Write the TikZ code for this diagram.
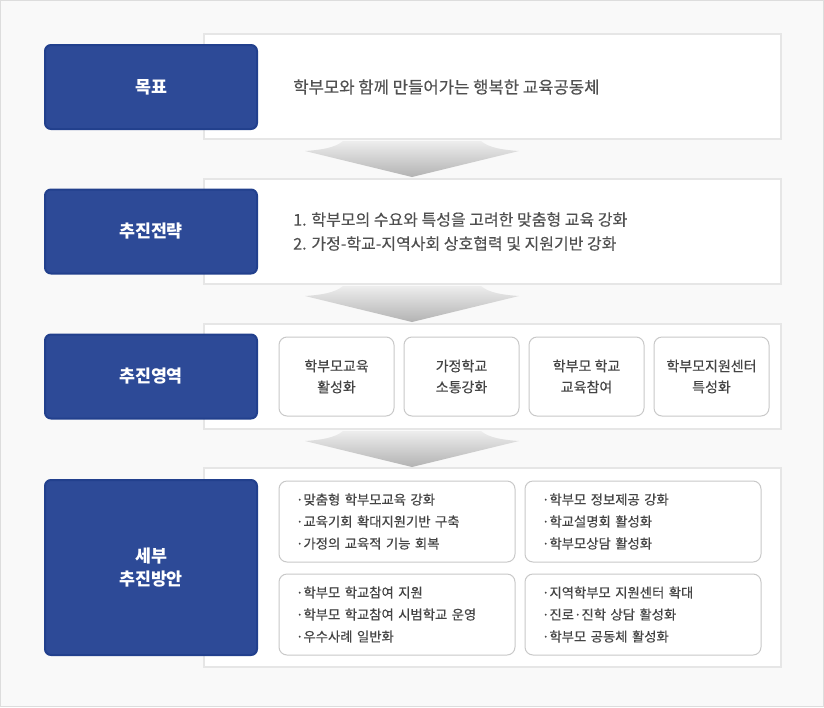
\documentclass[tikz,border=0pt]{standalone}
\usepackage{fontspec}
\setmainfont{Noto Sans CJK KR}
\newfontfamily\krtext{Noto Sans CJK KR}[FakeBold=0.3]
\usepackage{xcolor}
\usepackage{tikz}
\usetikzlibrary{positioning}
\definecolor{labelblue}{HTML}{2D4A97}
\definecolor{labelline}{HTML}{22408D}
\definecolor{panelline}{HTML}{E6E6E6}
\definecolor{boxline}{HTML}{C9C9C9}
\definecolor{textgray}{HTML}{505050}
\definecolor{textdark}{HTML}{444444}
\definecolor{bggray}{HTML}{F9F9F9}
\definecolor{bgline}{HTML}{DDDDDD}
\tikzstyle{headbox} = [rectangle, rounded corners=4.5pt, minimum width=159pt, minimum height=63pt, align=center, draw=labelline, line width=1.5pt, fill=labelblue, text=white, font=\fontsize{13}{17.25}\selectfont\bfseries]
\tikzstyle{panel} = [rectangle, minimum width=432.75pt, minimum height=78.75pt, draw=panelline, line width=1.5pt, fill=white]
\tikzstyle{paneltext} = [anchor=west, inner sep=0pt, align=left, text=textgray, font=\krtext\fontsize{12}{18}\selectfont]
\tikzstyle{areabox} = [rectangle, rounded corners=6pt, minimum width=86.25pt, minimum height=59.25pt, align=center, draw=boxline, line width=0.75pt, fill=white, text=textdark, font=\krtext\fontsize{10.5}{15.75}\selectfont]
\tikzstyle{detailbox} = [rectangle, rounded corners=6pt, minimum height=60.75pt, text width=151.5pt, inner xsep=12.75pt, align=left, draw=boxline, line width=0.75pt, fill=white, text=textdark, font=\krtext\fontsize{10}{16.5}\selectfont]
\tikzstyle{chevron} = [top color=black!7, bottom color=black!30]

\begin{document}
\begin{tikzpicture}[x=0.75pt, y=-0.75pt]
\useasboundingbox (0,0) rectangle (824,707);
\draw [fill=bggray, draw=bgline, line width=0.75pt] (0.5,0.5) rectangle (823.5,706.5);

% Row 1: goal
\node (goal_panel) [panel] at (492.5,86.5) {};
\node (goal) [headbox] at (151,87) {목표};
\node (goal_text) [paneltext, font=\krtext\fontsize{12.5}{18}\selectfont] at (293,87) {학부모와 함께 만들어가는 행복한 교육공동체};

% Row 2: strategy
\node (strat_panel) [panel] at (492.5,231.5) {};
\node (strat) [headbox] at (151,231.5) {추진전략};
\node (strat_text) [paneltext] at (293,231.5) {1. 학부모의 수요와 특성을 고려한 맞춤형 교육 강화\\2. 가정-학교-지역사회 상호협력 및 지원기반 강화};

% Row 3: areas
\node (area_panel) [panel] at (492.5,376.5) {};
\node (area) [headbox] at (151,376.5) {추진영역};
\node (area1) [areabox] at (336.5,376.5) {학부모교육\\활성화};
\node (area2) [areabox, right=6.75pt of area1] {가정학교\\소통강화};
\node (area3) [areabox, right=6.75pt of area2] {학부모 학교\\교육참여};
\node (area4) [areabox, right=6.75pt of area3] {학부모지원센터\\특성화};

% Row 4: detailed plans
\node (detail_panel) [panel, minimum height=149.25pt] at (492.5,567.5) {};
\node (detail) [headbox, minimum height=131.25pt] at (151,567.5) {세부\\추진방안};
\node (detail1) [detailbox] at (397,521.5) {·맞춤형 학부모교육 강화\\·교육기회 확대지원기반 구축\\·가정의 교육적 기능 회복};
\node (detail2) [detailbox, right=6.75pt of detail1] {·학부모 정보제공 강화\\·학교설명회 활성화\\·학부모상담 활성화};
\node (detail3) [detailbox, below=8.25pt of detail1] {·학부모 학교참여 지원\\·학부모 학교참여 시범학교 운영\\·우수사례 일반화};
\node (detail4) [detailbox, below=8.25pt of detail2] {·지역학부모 지원센터 확대\\·진로·진학 상담 활성화\\·학부모 공동체 활성화};

% Chevrons between rows
\shade [chevron] (343,141) .. controls (335,148) and (320,150) .. (305,151) -- (412,177) -- (519,151) .. controls (504,150) and (489,148) .. (481,141) -- cycle;
\shade [chevron, shift={(0,145)}] (343,141) .. controls (335,148) and (320,150) .. (305,151) -- (412,177) -- (519,151) .. controls (504,150) and (489,148) .. (481,141) -- cycle;
\shade [chevron, shift={(0,290)}] (343,141) .. controls (335,148) and (320,150) .. (305,151) -- (412,177) -- (519,151) .. controls (504,150) and (489,148) .. (481,141) -- cycle;

\end{tikzpicture}
\end{document}
